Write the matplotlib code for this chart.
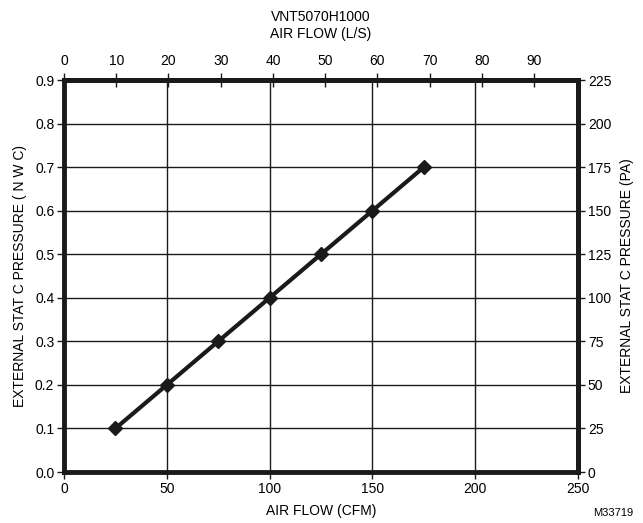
import matplotlib.pyplot as plt
import numpy as np

plt.rcParams['font.family'] = ['Liberation Sans', 'DejaVu Sans']

# data
airflow_cfm = [25, 50, 75, 100, 125, 150, 175]
pressure_inwc = [0.1, 0.2, 0.3, 0.4, 0.5, 0.6, 0.7]

cfm_ticks = [0, 50, 100, 150, 200, 250]
inwc_ticks = [0.0, 0.1, 0.2, 0.3, 0.4, 0.5, 0.6, 0.7, 0.8, 0.9]
ls_ticks = [0, 10, 20, 30, 40, 50, 60, 70, 80, 90]
pa_ticks = [0, 25, 50, 75, 100, 125, 150, 175, 200, 225]

CFM_PER_LS = 2.54   # spacing used on the drawing's top scale
PA_PER_INWC = 250.0

fig = plt.figure(figsize=(6.43, 5.23), dpi=100)
ax = fig.add_axes([0.0995, 0.0975, 0.7995, 0.7495])

ax.plot(airflow_cfm, pressure_inwc, color='#1a1a1a', lw=3, marker='D',
        markersize=7, zorder=5, clip_on=False)

ax.set_xlim(0, 250)
ax.set_ylim(0, 0.9)
ax.set_xticks(cfm_ticks)
ax.set_yticks(inwc_ticks)
ax.set_yticklabels(['%.1f' % v for v in inwc_ticks])
ax.grid(True, color='#1a1a1a', lw=1)
ax.set_axisbelow(True)
for s in ax.spines.values():
    s.set_linewidth(3.5)
    s.set_color('#1a1a1a')
ax.tick_params(axis='both', labelsize=10, direction='out', length=5, width=1,
               color='#1a1a1a', pad=2)
ax.set_xlabel('AIR FLOW (CFM)', fontsize=10, labelpad=6)
ax.set_ylabel('EXTERNAL STAT C PRESSURE ( N W C)', fontsize=10, labelpad=6)

# top axis: L/S
top = ax.secondary_xaxis('top', functions=(lambda x: x / CFM_PER_LS,
                                           lambda x: x * CFM_PER_LS))
top.set_xticks(ls_ticks)
top.tick_params(labelsize=10, direction='inout', length=10, width=1,
                color='#1a1a1a', pad=4)
top.spines['top'].set_linewidth(3.5)
top.set_xlabel('VNT5070H1000\nAIR FLOW (L/S)', fontsize=10, labelpad=11,
               linespacing=1.3)

# right axis: PA
right = ax.secondary_yaxis('right', functions=(lambda y: y * PA_PER_INWC,
                                               lambda y: y / PA_PER_INWC))
right.set_yticks(pa_ticks)
right.tick_params(labelsize=10, direction='out', length=5, width=1,
                  color='#1a1a1a', pad=2)
right.spines['right'].set_linewidth(3.5)
right.set_ylabel('EXTERNAL STAT C PRESSURE (PA)', fontsize=10, labelpad=6)

fig.text(0.985, 0.01, 'M33719', fontsize=8, ha='right', va='bottom')

plt.savefig('out.png', dpi=100)
